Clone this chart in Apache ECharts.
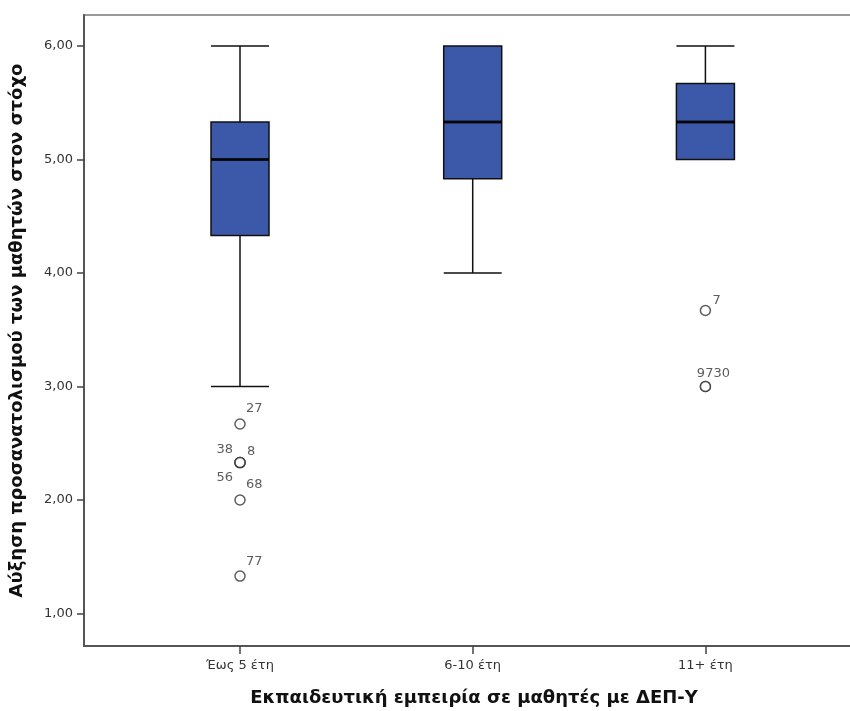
<!DOCTYPE html>
<html>
<head>
<meta charset="utf-8">
<script src="https://cdn.jsdelivr.net/npm/echarts@6/dist/echarts.min.js"></script>
<style>
  html, body { margin: 0; padding: 0; background: #fff; }
  #chart { width: 850px; height: 711px; }
</style>
</head>
<body>
<div id="chart"></div>
<script>
// Groups of teaching experience
const categories = ['Έως 5 έτη', '6-10 έτη', '11+ έτη'];
// Box statistics per group: [lower whisker, Q1, median, Q3, upper whisker]
const boxStats = [
  [3.00, 4.33, 5.00, 5.33, 6.00],
  [4.00, 4.83, 5.33, 6.00, 6.00],
  [5.00, 5.00, 5.33, 5.67, 6.00]
];
// Outlying cases: group index (0-based), value, case id
const outlierGroup = [0, 0, 0, 0, 0, 0, 2, 2, 2];
const outlierValue = [2.67, 2.33, 2.33, 2.33, 2.00, 1.33, 3.67, 3.00, 3.00];
const outlierId    = ['27', '38', '8', '56', '68', '77', '7', '97', '30'];
// Y axis tick values
const yTicks = [1, 2, 3, 4, 5, 6];

// Placement of each case label around its circle
const labelPlacement = {
  '27': { offset: [6, -15], align: 'left' },
  '38': { offset: [-7, -13], align: 'right' },
  '8':  { offset: [7, -11], align: 'left' },
  '56': { offset: [-7, 15], align: 'right' },
  '68': { offset: [6, -15], align: 'left' },
  '77': { offset: [6, -14], align: 'left' },
  '7':  { offset: [7, -10], align: 'left' },
  '97': { offset: [8, -13], align: 'right' },
  '30': { offset: [8, -13], align: 'left' }
};

const fmt = v => v.toFixed(2).replace('.', ',');

const boxData = boxStats.map((s, i) => [i + 1].concat(s));
const medianData = boxStats.map((s, i) => [i + 1, s[2]]);
const outlierData = outlierValue.map((v, i) => {
  const p = labelPlacement[outlierId[i]];
  return {
    value: [outlierGroup[i] + 1, v],
    name: outlierId[i],
    label: { offset: p.offset, align: p.align }
  };
});

const tickFont = { fontFamily: 'DejaVu Sans', fontSize: 13, color: '#333' };
const titleFont = { fontFamily: 'DejaVu Sans', fontWeight: 'bold', fontSize: 18, color: '#111' };

const chart = echarts.init(document.getElementById('chart'), null, { renderer: 'canvas' });
chart.setOption({
  animation: false,
  backgroundColor: '#ffffff',
  grid: {
    // the frame runs past the right edge of the page, so only top/left/bottom show
    left: 84, width: 780, top: 15, bottom: 65,
    outerBoundsMode: 'none',
    containLabel: false,
    show: true, borderColor: '#9a9a9a', borderWidth: 2, backgroundColor: 'transparent'
  },
  xAxis: {
    type: 'value',
    min: 0.3296, max: 3.6815,
    name: 'Εκπαιδευτική εμπειρία σε μαθητές με ΔΕΠ-Υ',
    nameLocation: 'middle',
    nameGap: 43,
    nameTextStyle: titleFont,
    splitLine: { show: false },
    axisLine: { show: true, onZero: false, lineStyle: { color: '#555', width: 2 } },
    axisTick: { show: true, customValues: [1, 2, 3], length: 8, lineStyle: { color: '#444', width: 1.5 } },
    axisLabel: Object.assign({
      customValues: [1, 2, 3],
      formatter: v => categories[Math.round(v) - 1] || '',
      margin: 13
    }, tickFont)
  },
  yAxis: {
    type: 'value',
    min: 0.714, max: 6.273,
    name: 'Αύξηση προσανατολισμού των μαθητών στον στόχο',
    nameLocation: 'middle',
    nameGap: 58,
    nameTextStyle: titleFont,
    splitLine: { show: false },
    axisLine: { show: true, onZero: false, lineStyle: { color: '#555', width: 2 } },
    axisTick: { show: true, customValues: yTicks, length: 7, lineStyle: { color: '#444', width: 1.5 } },
    axisLabel: Object.assign({
      customValues: yTicks,
      formatter: v => fmt(v),
      margin: 11
    }, tickFont)
  },
  series: [
    {
      type: 'boxplot',
      data: boxData,
      boxWidth: [58, 58],
      itemStyle: { color: '#3c58a8', borderColor: '#111', borderWidth: 1.5 },
      emphasis: { disabled: true }
    },
    {
      // heavier median bars
      type: 'scatter',
      data: medianData,
      symbol: 'rect',
      symbolSize: [58, 3],
      itemStyle: { color: '#000' },
      silent: true,
      z: 5
    },
    {
      type: 'scatter',
      data: outlierData,
      symbol: 'circle',
      symbolSize: 10,
      itemStyle: { color: '#fff', borderColor: '#333', borderWidth: 1.5 },
      label: Object.assign({
        show: true,
        position: 'inside',
        formatter: p => p.name,
        verticalAlign: 'middle'
      }, tickFont),
      z: 6
    }
  ]
});
</script>
</body>
</html>
